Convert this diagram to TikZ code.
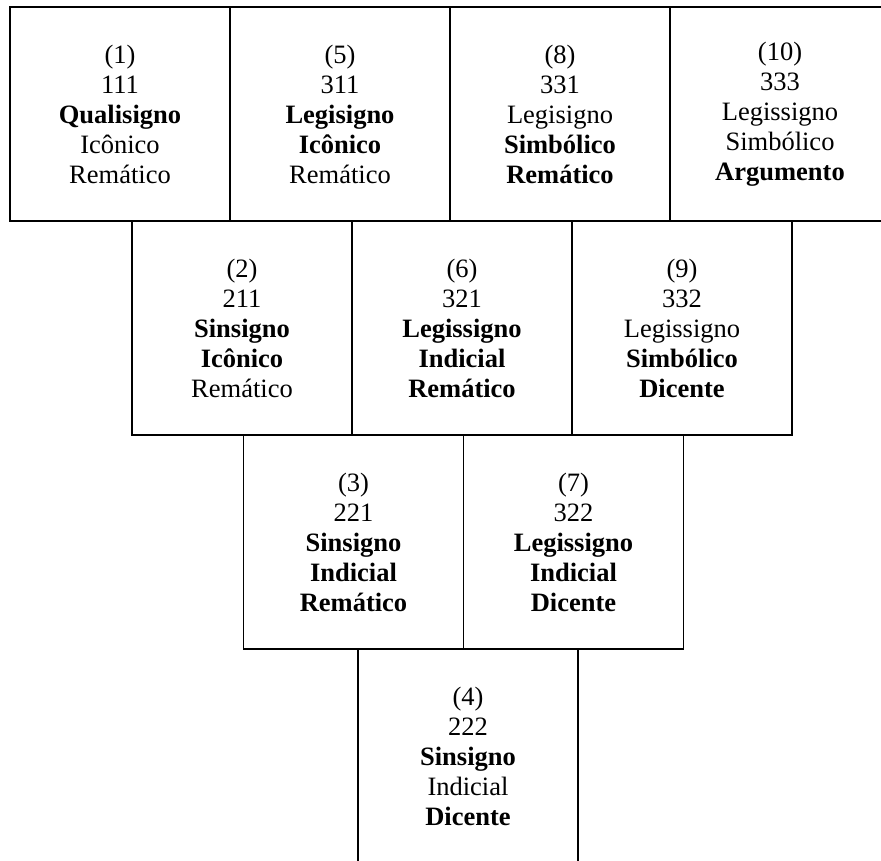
\documentclass[tikz,border=0pt]{standalone}
\usepackage{fontspec}
\setmainfont{Liberation Serif}
\begin{document}
\begin{tikzpicture}[x=1pt,y=-1pt,
  box/.style={draw, line width=1.2pt, minimum width=220pt, minimum height=214pt,
    inner sep=0pt, align=center, font=\fontsize{26.5}{30}\selectfont}]
\useasboundingbox (0,0) rectangle (881,860);
\clip (0,0) rectangle (881,860);
% row 1
\node[box] (n1) at (120,114) {(1)\\111\\\textbf{Qualisigno}\\Icônico\\Remático};
\node[box] (n5) at (340,114) {(5)\\311\\\textbf{Legisigno}\\\textbf{Icônico}\\Remático};
\node[box] (n8) at (560,114) {(8)\\331\\Legisigno\\\textbf{Simbólico}\\\textbf{Remático}};
\node[box] (n10) at (780,114) {(10)\\333\\Legissigno\\Simbólico\\\textbf{Argumento}};
% row 2
\node[box] (n2) at (242,328) {(2)\\211\\\textbf{Sinsigno}\\\textbf{Icônico}\\Remático};
\node[box] (n6) at (462,328) {(6)\\321\\\textbf{Legissigno}\\\textbf{Indicial}\\\textbf{Remático}};
\node[box] (n9) at (682,328) {(9)\\332\\Legissigno\\\textbf{Simbólico}\\\textbf{Dicente}};
% row 3
\node[box] (n3) at (353.5,542) {(3)\\221\\\textbf{Sinsigno}\\\textbf{Indicial}\\\textbf{Remático}};
\node[box] (n7) at (573.5,542) {(7)\\322\\\textbf{Legissigno}\\\textbf{Indicial}\\\textbf{Dicente}};
% row 4
\node[box] (n4) at (468,756) {(4)\\222\\\textbf{Sinsigno}\\Indicial\\\textbf{Dicente}};
\end{tikzpicture}
\end{document}
